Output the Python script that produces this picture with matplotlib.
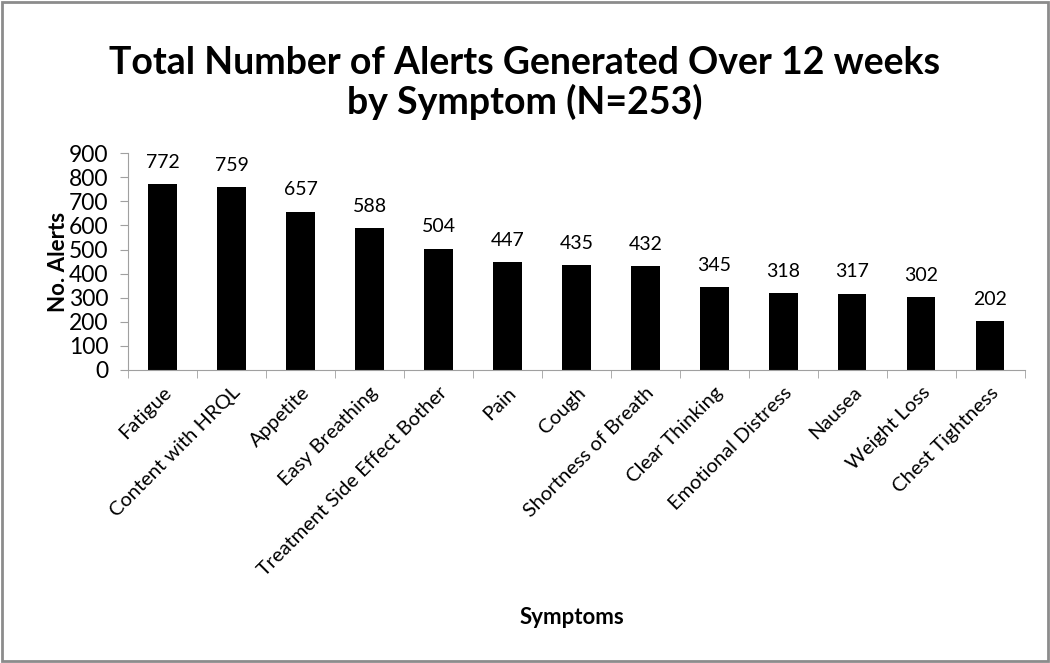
import matplotlib.pyplot as plt
from matplotlib import patches
import numpy as np

symptoms = ['Fatigue', 'Content with HRQL', 'Appetite', 'Easy Breathing',
            'Treatment Side Effect Bother', 'Pain', 'Cough', 'Shortness of Breath',
            'Clear Thinking', 'Emotional Distress', 'Nausea', 'Weight Loss',
            'Chest Tightness']
alerts = [772, 759, 657, 588, 504, 447, 435, 432, 345, 318, 317, 302, 202]
y_ticks = [0, 100, 200, 300, 400, 500, 600, 700, 800, 900]

plt.rcParams['font.family'] = ['Lato', 'DejaVu Sans']

fig = plt.figure(figsize=(10.5, 6.63), dpi=100)
ax = fig.add_axes([0.122, 0.442, 0.854, 0.327])

x = np.arange(len(symptoms))
ax.bar(x, alerts, width=0.41, color='black')

for xi, v in zip(x, alerts):
    ax.text(xi, v + 55, str(v), ha='center', va='bottom', fontsize=14)

ax.set_xlim(-0.5, len(symptoms) - 0.5)
ax.set_ylim(0, 900)
ax.set_yticks(y_ticks)
ax.set_yticklabels([str(t) for t in y_ticks], fontsize=16.5)

# category labels, ticks sit on the boundaries like excel
ax.set_xticks(x)
ax.set_xticklabels(symptoms, rotation=45, ha='right', rotation_mode='anchor', fontsize=14.5)
ax.tick_params(axis='x', length=0, pad=10)
ax.set_xticks(np.arange(-0.5, len(symptoms)), minor=True)
ax.tick_params(axis='x', which='minor', length=6, color='#a0a0a0', direction='out')
ax.tick_params(axis='y', length=6, color='#a0a0a0', direction='out', pad=8)

for side in ['top', 'right']:
    ax.spines[side].set_visible(False)
for side in ['left', 'bottom']:
    ax.spines[side].set_color('#a0a0a0')

ax.set_ylabel('No. Alerts', fontsize=16, fontweight='bold', labelpad=0)
fig.text(0.545, 0.068, 'Symptoms', ha='center', va='center', fontsize=16, fontweight='bold')

fig.text(0.5, 0.875, 'Total Number of Alerts Generated Over 12 weeks\nby Symptom (N=253)',
         ha='center', va='center', fontsize=27, fontweight='bold', linespacing=1.15)

# gray frame round the whole chart
fig.patches.append(patches.Rectangle((0.002, 0.003), 0.996, 0.994, transform=fig.transFigure,
                                     fill=False, edgecolor='#8c8c8c', linewidth=2))

fig.savefig('out.png', dpi=100)
